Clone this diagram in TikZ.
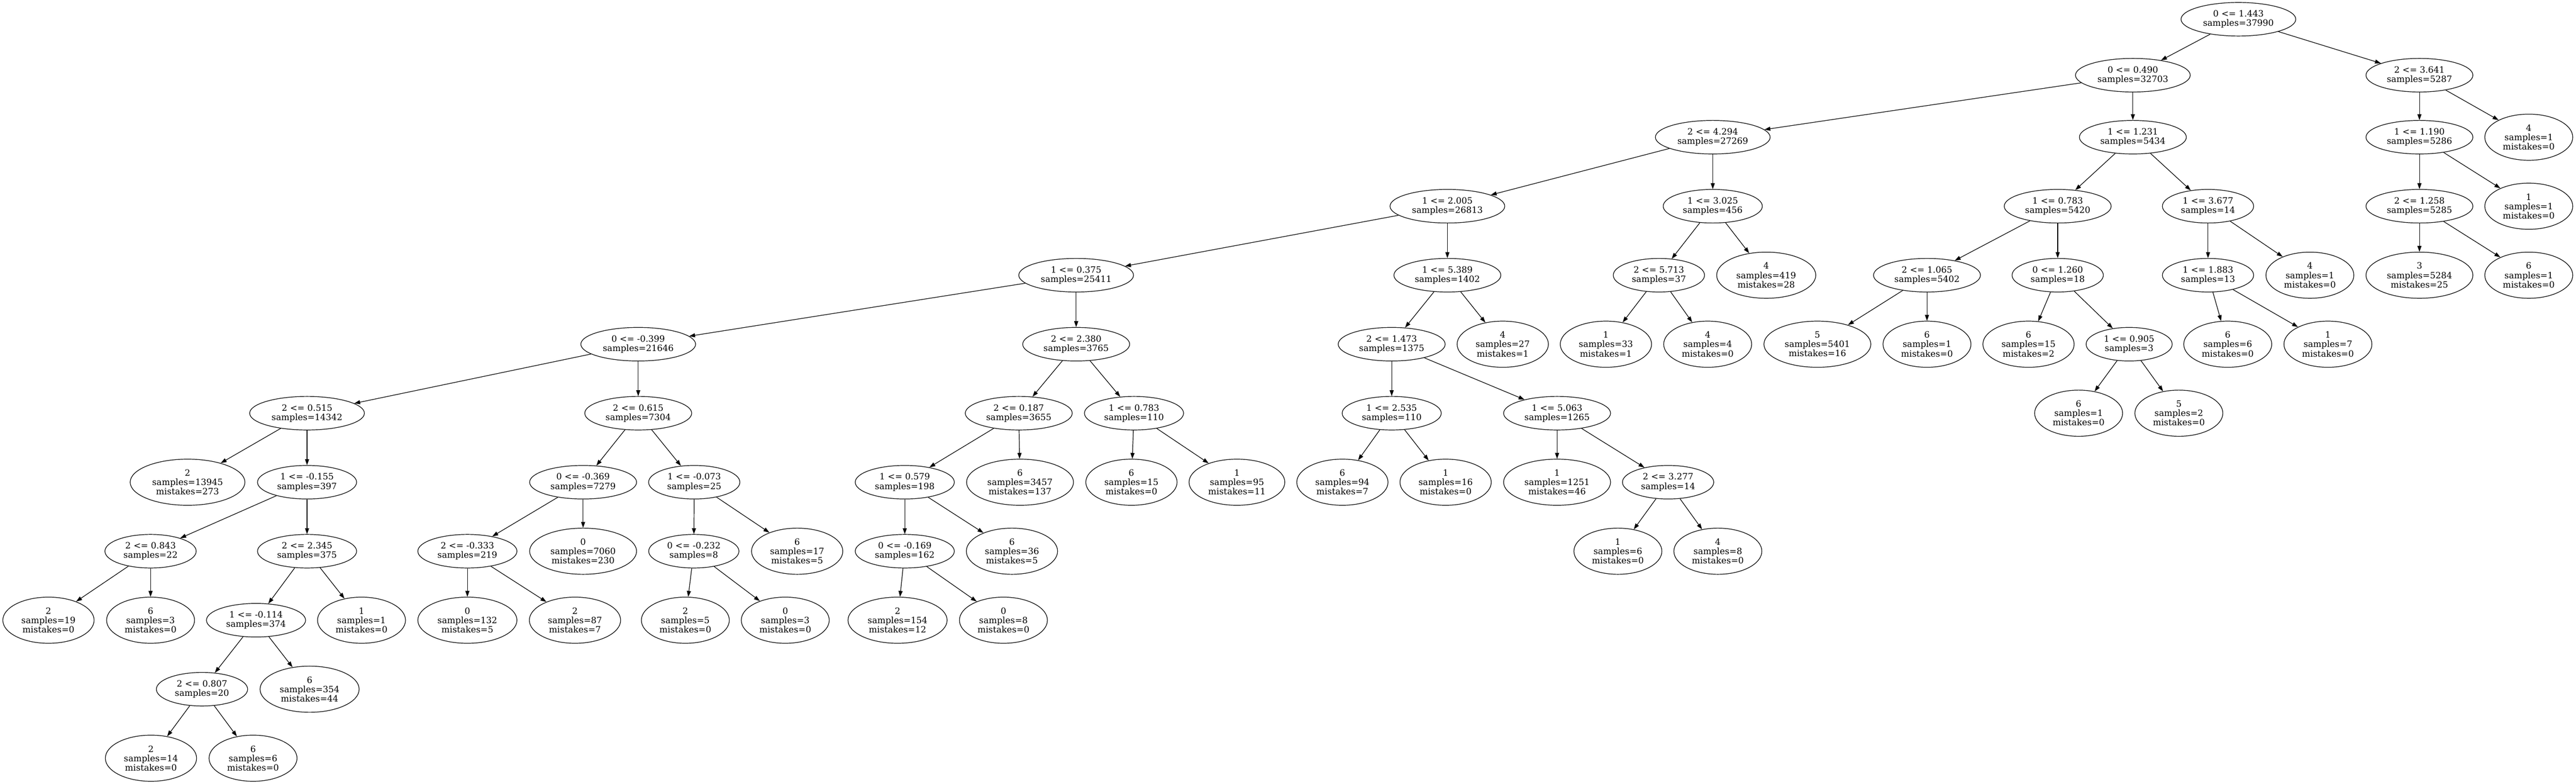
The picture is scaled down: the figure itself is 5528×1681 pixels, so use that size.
\documentclass[tikz,border=0pt]{standalone}
\usepackage{fontspec}
\setmainfont{DejaVu Serif}
\usetikzlibrary{shapes.geometric,arrows.meta}
\begin{document}
\begin{tikzpicture}[x=0.75pt,y=-0.75pt,
  base/.style={draw,line width=1pt,ellipse,inner xsep=8.3pt,inner ysep=0pt,align=center,
    font=\fontsize{14}{15}\selectfont},
  inner/.style={base,minimum height=54pt},
  leaf/.style={base,minimum height=74.25pt},
  edge/.style={draw,line width=1pt,-{Triangle[length=9.5pt,width=6.5pt]}}]
\useasboundingbox (0,0) rectangle (5528,1681);
\def\ra{41.3}\def\rb{161.3}\def\rc{294.3}\def\rd{442.3}\def\re{590.3}\def\rf{738.3}
\def\rg{886.3}\def\rh{1034.3}\def\ri{1182.3}\def\rj{1330.3}\def\rk{1478.3}\def\rl{1626.3}
% rank 0
\node[inner] (n0) at (4803.5,\ra) {0 <= 1.443\\samples=37990};
% rank 1
\node[inner] (n1) at (4577,\rb) {0 <= 0.490\\samples=32703};
\node[inner] (n2) at (5192,\rb) {2 <= 3.641\\samples=5287};
% rank 2
\node[inner] (n3) at (3675.5,\rc) {2 <= 4.294\\samples=27269};
\node[inner] (n4) at (4577,\rc) {1 <= 1.231\\samples=5434};
\node[inner] (n5) at (5192,\rc) {1 <= 1.190\\samples=5286};
\node[leaf] (n6) at (5426.6,\rc) {4\\samples=1\\mistakes=0};
% rank 3
\node[inner] (n7) at (3106,\rd) {1 <= 2.005\\samples=26813};
\node[inner] (n8) at (3675.5,\rd) {1 <= 3.025\\samples=456};
\node[inner] (n9) at (4415.7,\rd) {1 <= 0.783\\samples=5420};
\node[inner] (n10) at (4738.3,\rd) {1 <= 3.677\\samples=14};
\node[inner] (n11) at (5192,\rd) {2 <= 1.258\\samples=5285};
\node[leaf] (n12) at (5426.6,\rd) {1\\samples=1\\mistakes=0};
% rank 4
\node[inner] (n13) at (2309.4,\re) {1 <= 0.375\\samples=25411};
\node[inner] (n14) at (3106,\re) {1 <= 5.389\\samples=1402};
\node[inner] (n15) at (3559.9,\re) {2 <= 5.713\\samples=37};
\node[leaf] (n16) at (3790.2,\re) {4\\samples=419\\mistakes=28};
\node[inner] (n17) at (4135.2,\re) {2 <= 1.065\\samples=5402};
\node[inner] (n18) at (4415.7,\re) {0 <= 1.260\\samples=18};
\node[inner] (n19) at (4738.3,\re) {1 <= 1.883\\samples=13};
\node[leaf] (n20) at (4956.9,\re) {4\\samples=1\\mistakes=0};
\node[leaf] (n21) at (5192,\re) {3\\samples=5284\\mistakes=25};
\node[leaf] (n22) at (5426.6,\re) {6\\samples=1\\mistakes=0};
% rank 5
\node[inner] (n23) at (1369.6,\rf) {0 <= -0.399\\samples=21646};
\node[inner] (n24) at (2309.4,\rf) {2 <= 2.380\\samples=3765};
\node[inner] (n25) at (2986.5,\rf) {2 <= 1.473\\samples=1375};
\node[leaf] (n26) at (3224.8,\rf) {4\\samples=27\\mistakes=1};
\node[leaf] (n27) at (3446.2,\rf) {1\\samples=33\\mistakes=1};
\node[leaf] (n28) at (3664.6,\rf) {4\\samples=4\\mistakes=0};
\node[leaf] (n29) at (3900,\rf) {5\\samples=5401\\mistakes=16};
\node[leaf] (n30) at (4135.2,\rf) {6\\samples=1\\mistakes=0};
\node[leaf] (n31) at (4353.1,\rf) {6\\samples=15\\mistakes=2};
\node[inner] (n32) at (4569,\rf) {1 <= 0.905\\samples=3};
\node[leaf] (n33) at (4780.6,\rf) {6\\samples=6\\mistakes=0};
\node[leaf] (n34) at (4995.6,\rf) {1\\samples=7\\mistakes=0};
% rank 6
\node[inner] (n35) at (658.9,\rg) {2 <= 0.515\\samples=14342};
\node[inner] (n36) at (1369.6,\rg) {2 <= 0.615\\samples=7304};
\node[inner] (n37) at (2186.2,\rg) {2 <= 0.187\\samples=3655};
\node[inner] (n38) at (2433.5,\rg) {1 <= 0.783\\samples=110};
\node[inner] (n39) at (2986.5,\rg) {1 <= 2.535\\samples=110};
\node[inner] (n40) at (3341.4,\rg) {1 <= 5.063\\samples=1265};
\node[leaf] (n41) at (4460.6,\rg) {6\\samples=1\\mistakes=0};
\node[leaf] (n42) at (4675.7,\rg) {5\\samples=2\\mistakes=0};
% rank 7
\node[leaf] (n43) at (402.5,\rh) {2\\samples=13945\\mistakes=273};
\node[inner] (n44) at (658.9,\rh) {1 <= -0.155\\samples=397};
\node[inner] (n45) at (1251.3,\rh) {0 <= -0.369\\samples=7279};
\node[inner] (n46) at (1489.8,\rh) {1 <= -0.073\\samples=25};
\node[inner] (n47) at (1941.6,\rh) {1 <= 0.579\\samples=198};
\node[leaf] (n48) at (2188.9,\rh) {6\\samples=3457\\mistakes=137};
\node[leaf] (n49) at (2428,\rh) {6\\samples=15\\mistakes=0};
\node[leaf] (n50) at (2654.4,\rh) {1\\samples=95\\mistakes=11};
\node[leaf] (n51) at (2880.7,\rh) {6\\samples=94\\mistakes=7};
\node[leaf] (n52) at (3102.2,\rh) {1\\samples=16\\mistakes=0};
\node[leaf] (n53) at (3341.4,\rh) {1\\samples=1251\\mistakes=46};
\node[inner] (n54) at (3579.6,\rh) {2 <= 3.277\\samples=14};
% rank 8
\node[inner] (n55) at (323.1,\ri) {2 <= 0.843\\samples=22};
\node[inner] (n56) at (658.9,\ri) {2 <= 2.345\\samples=375};
\node[inner] (n57) at (1003,\ri) {2 <= -0.333\\samples=219};
\node[leaf] (n58) at (1251.3,\ri) {0\\samples=7060\\mistakes=230};
\node[inner] (n59) at (1488.9,\ri) {0 <= -0.232\\samples=8};
\node[leaf] (n60) at (1710.7,\ri) {6\\samples=17\\mistakes=5};
\node[inner] (n61) at (1941.6,\ri) {0 <= -0.169\\samples=162};
\node[leaf] (n62) at (2171.6,\ri) {6\\samples=36\\mistakes=5};
\node[leaf] (n63) at (3471.9,\ri) {1\\samples=6\\mistakes=0};
\node[leaf] (n64) at (3686.4,\ri) {4\\samples=8\\mistakes=0};
% rank 9
\node[leaf] (n65) at (104,\rj) {2\\samples=19\\mistakes=0};
\node[leaf] (n66) at (323.1,\rj) {6\\samples=3\\mistakes=0};
\node[inner] (n67) at (549.4,\rj) {1 <= -0.114\\samples=374};
\node[leaf] (n68) at (775.8,\rj) {1\\samples=1\\mistakes=0};
\node[leaf] (n69) at (1003,\rj) {0\\samples=132\\mistakes=5};
\node[leaf] (n70) at (1233.9,\rj) {2\\samples=87\\mistakes=7};
\node[leaf] (n71) at (1470.7,\rj) {2\\samples=5\\mistakes=0};
\node[leaf] (n72) at (1685.1,\rj) {0\\samples=3\\mistakes=0};
\node[leaf] (n73) at (1926.1,\rj) {2\\samples=154\\mistakes=12};
\node[leaf] (n74) at (2153.3,\rj) {0\\samples=8\\mistakes=0};
% rank 10
\node[inner] (n75) at (433.5,\rk) {2 <= 0.807\\samples=20};
\node[leaf] (n76) at (664.4,\rk) {6\\samples=354\\mistakes=44};
% rank 11
\node[leaf] (n77) at (324,\rl) {2\\samples=14\\mistakes=0};
\node[leaf] (n78) at (543,\rl) {6\\samples=6\\mistakes=0};
% edges
\foreach \p/\a/\b in {0/1/2,1/3/4,2/5/6,3/7/8,4/9/10,5/11/12,7/13/14,8/15/16,
  9/17/18,10/19/20,11/21/22,13/23/24,14/25/26,15/27/28,17/29/30,18/31/32,
  19/33/34,23/35/36,24/37/38,25/39/40,32/41/42,35/43/44,36/45/46,37/47/48,
  38/49/50,39/51/52,40/53/54,44/55/56,45/57/58,46/59/60,47/61/62,54/63/64,
  55/65/66,56/67/68,57/69/70,59/71/72,61/73/74,67/75/76,75/77/78}{
  \path[edge] (n\p) -- (n\a);
  \path[edge] (n\p) -- (n\b);
}
\end{tikzpicture}
\end{document}
